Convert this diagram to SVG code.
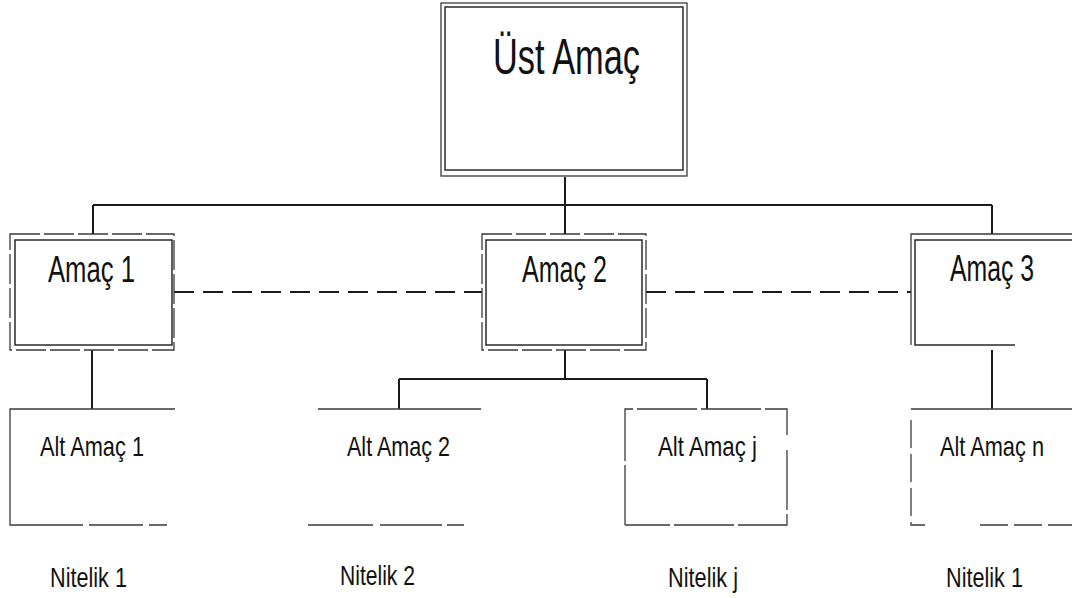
<svg xmlns="http://www.w3.org/2000/svg" width="1072" height="598" viewBox="0 0 1072 598">
<style>
.bg{fill:#ffffff}
.box{fill:none;stroke:#3a3a3a;stroke-width:1.3}
.inner{fill:none;stroke:#2a2a2a;stroke-width:1.5}
.open{fill:none;stroke:#3a3a3a;stroke-width:1.3}
.conn{fill:none;stroke:#1a1a1a;stroke-width:2}
.dash{fill:none;stroke:#1a1a1a;stroke-width:2;stroke-dasharray:20 9}
.t{font-family:"Liberation Sans","Open Sans",sans-serif;fill:#111;text-anchor:start}
.big{font-size:50px}
.mid{font-size:36px}
.sm{font-size:28px}
</style>
<rect class="bg" x="0" y="0" width="1072" height="598"/>

<g id="connectors">
  <path class="conn" d="M565,177 V205 M93,205 H992 M93,205 V234 M565,205 V234 M992,205 V234"/>
  <path class="conn" d="M92,350 V409"/>
  <path class="conn" d="M565,350 V379 M399,379 H707 M399,379 V409 M707,379 V409"/>
  <path class="conn" d="M992,350 V409"/>
  <path class="dash" d="M174,292 H482"/>
  <path class="dash" d="M646,292 H911"/>
</g>

<g id="ust-amac">
  <rect class="box" x="441" y="3" width="246" height="173"/>
  <rect class="inner" x="445" y="7" width="238" height="163"/>
  <text class="t big" x="493" y="74" textLength="147" lengthAdjust="spacingAndGlyphs">Üst Amaç</text>
</g>

<g id="amac-1">
  <rect class="box" x="10" y="234" width="164" height="116" stroke-dasharray="30 4"/>
  <rect class="inner" x="15" y="240" width="157" height="105"/>
  <text class="t mid" x="48" y="282" textLength="87" lengthAdjust="spacingAndGlyphs">Amaç 1</text>
</g>

<g id="amac-2">
  <rect class="box" x="482" y="234" width="164" height="116" stroke-dasharray="30 4"/>
  <rect class="inner" x="486" y="240" width="156" height="105"/>
  <text class="t mid" x="522" y="282" textLength="85" lengthAdjust="spacingAndGlyphs">Amaç 2</text>
</g>

<g id="amac-3">
  <path class="box" d="M1072,234 H911 V345"/>
  <path class="inner" d="M1072,240 H915 V345 H1015"/>
  <text class="t mid" x="950" y="281" textLength="84" lengthAdjust="spacingAndGlyphs">Amaç 3</text>
</g>

<g id="alt-amac-1">
  <path class="open" d="M175,409 H10 V525 H83 M89,525 H143 M149,525 H167"/>
  <text class="t sm" x="40" y="456" textLength="104" lengthAdjust="spacingAndGlyphs">Alt Amaç 1</text>
</g>

<g id="alt-amac-2">
  <path class="open" d="M318,409 H481 M308,525 H373 M380,525 H442 M447,525 H464"/>
  <text class="t sm" x="347" y="456" textLength="103" lengthAdjust="spacingAndGlyphs">Alt Amaç 2</text>
</g>

<g id="alt-amac-j">
  <path class="open" d="M625,525 V409 H787 V435 M787,450 V525 H625" stroke-dasharray="60 4"/>
  <text class="t sm" x="658" y="456" textLength="99" lengthAdjust="spacingAndGlyphs">Alt Amaç j</text>
</g>

<g id="alt-amac-n">
  <path class="open" d="M1072,409 H911"/>
  <path class="open" d="M911,420 V525 H925 M980,525 H1072" stroke-dasharray="28 6"/>
  <text class="t sm" x="940" y="456" textLength="104" lengthAdjust="spacingAndGlyphs">Alt Amaç n</text>
</g>

<g id="nitelik-labels">
  <text class="t sm" x="50" y="587" textLength="77" lengthAdjust="spacingAndGlyphs">Nitelik 1</text>
  <text class="t sm" x="340" y="585" textLength="75" lengthAdjust="spacingAndGlyphs">Nitelik 2</text>
  <text class="t sm" x="668" y="587" textLength="70" lengthAdjust="spacingAndGlyphs">Nitelik j</text>
  <text class="t sm" x="946" y="587" textLength="77" lengthAdjust="spacingAndGlyphs">Nitelik 1</text>
</g>
</svg>
